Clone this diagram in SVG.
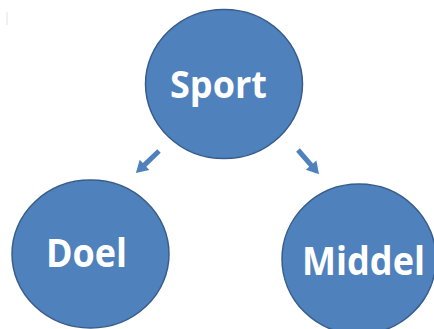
<svg xmlns="http://www.w3.org/2000/svg" xmlns:xlink="http://www.w3.org/1999/xlink" width="434" height="329" viewBox="0 0 434 329">
<style>
.node{fill:#4F81BD;stroke:#385D8A;stroke-width:1.5}
.lbl{font-family:"Open Sans","Liberation Sans",sans-serif;font-weight:700;fill:#FFFFFF;text-anchor:middle}
.arrow{fill:#4F81BD}
</style>
<defs>
<path id="blockArrow" d="M0,-2.5 L20,-2.5 L20,-7 L32,0 L20,7 L20,2.5 L0,2.5 Z"/>
</defs>
<rect width="434" height="329" fill="#FFFFFF"/>
<line x1="7" y1="12" x2="7" y2="25" stroke="#E6E6E6" stroke-width="1.2"/>
<g id="connectors">
<use xlink:href="#blockArrow" class="arrow" transform="translate(159,151) rotate(136.3)"/>
<use xlink:href="#blockArrow" class="arrow" transform="translate(298,150) rotate(49)"/>
</g>
<g id="sport">
<ellipse class="node" cx="224" cy="84" rx="78.5" ry="74.5"/>
<text class="lbl" x="218.5" y="98" font-size="37" textLength="97" lengthAdjust="spacingAndGlyphs">Sport</text>
</g>
<g id="doel">
<ellipse class="node" cx="90.5" cy="254" rx="78.5" ry="74"/>
<text class="lbl" x="86.5" y="267" font-size="39.5" textLength="81" lengthAdjust="spacingAndGlyphs">Doel</text>
</g>
<g id="middel">
<ellipse class="node" cx="359" cy="259" rx="77" ry="75"/>
<text class="lbl" x="363.5" y="275" font-size="39.5" textLength="123" lengthAdjust="spacingAndGlyphs">Middel</text>
</g>
</svg>
